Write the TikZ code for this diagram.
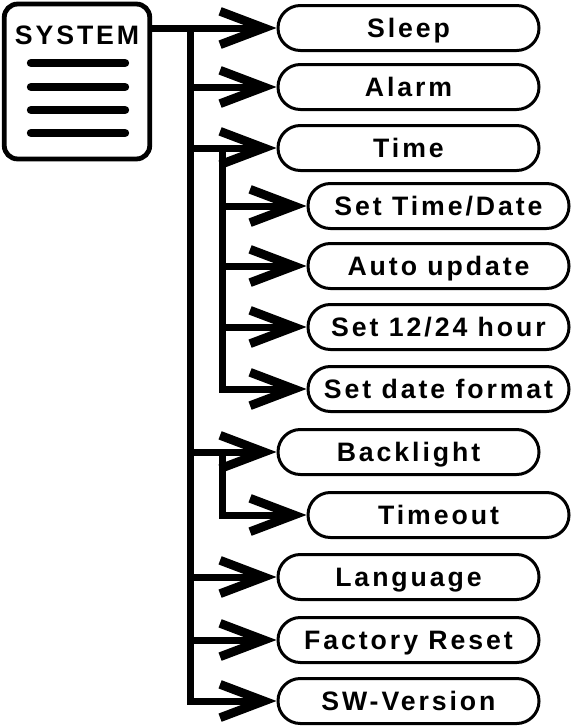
\documentclass[tikz,border=0pt]{standalone}
\usepackage{fontspec}
\newfontfamily\lbl[LetterSpace=11]{Liberation Sans}
\usetikzlibrary{arrows.meta}
\tikzset{
  pill/.style={draw=black, line width=2.25pt, rounded corners=16.8pt, fill=white,
    minimum width=195.75pt, minimum height=33.75pt, inner sep=0pt,
    font=\lbl\bfseries\fontsize{20pt}{22pt}\selectfont, text height=14.3pt, text depth=0pt},
  sysbox/.style={draw=black, line width=3.6pt, rounded corners=10pt,
    minimum width=109.1pt, minimum height=116.2pt, inner sep=0pt},
  systext/.style={font=\lbl\bfseries\fontsize{20pt}{22pt}\selectfont, inner sep=0pt,
    text height=14.3pt, text depth=0pt},
  menuline/.style={line width=6.3pt, line cap=round},
  conn/.style={line width=5.25pt, line cap=rect},
  arr/.style={line width=5.25pt, -{Straight Barb[length=33pt, width=25pt, line width=6.6pt]}}
}
\begin{document}
\begin{tikzpicture}[x=0.75pt, y=-0.75pt]
\useasboundingbox (0,0) rectangle (573,728);
% system box
\node[sysbox] (sys) at (77,81.5) {};
\node[systext] (syst) at (77,35) {SYSTEM};
\draw[menuline] (31,63) -- (125,63);
\draw[menuline] (31,87) -- (125,87);
\draw[menuline] (31,110) -- (125,110);
\draw[menuline] (31,133) -- (125,133);
% main items
\node[pill] (sleep) at (408.5,28) {Sleep};
\node[pill] (alarm) at (408.5,87) {Alarm};
\node[pill] (time) at (408.5,148) {Time};
\node[pill] (settd) at (438.5,206) {Set Time/Date};
\node[pill] (auto) at (438.5,266) {Auto update};
\node[pill] (s1224) at (438.5,327) {Set 12/24 hour};
\node[pill] (sdf) at (438.5,389) {Set date format};
\node[pill] (back) at (408.5,452) {Backlight};
\node[pill] (tout) at (438.5,515) {Timeout};
\node[pill] (lang) at (408.5,577) {Language};
\node[pill] (fact) at (408.5,640) {Factory Reset};
\node[pill] (sw) at (408.5,701) {SW-Version};
% trunks
\coordinate (trunk) at (190,28);
\coordinate (ttrunk) at (222,148);
\coordinate (btrunk) at (222,452);
\draw[conn] (trunk) -- (trunk |- sw.west);
\draw[conn] (ttrunk) -- (ttrunk |- sdf.west);
\draw[conn] (btrunk) -- (btrunk |- tout.west);
% arrows
\draw[arr] (sys.east |- sleep.west) -- (sleep.west);
\draw[arr] (trunk |- alarm.west) -- (alarm.west);
\draw[arr] (trunk |- time.west) -- (time.west);
\draw[arr] (ttrunk |- settd.west) -- (settd.west);
\draw[arr] (ttrunk |- auto.west) -- (auto.west);
\draw[arr] (ttrunk |- s1224.west) -- (s1224.west);
\draw[arr] (ttrunk |- sdf.west) -- (sdf.west);
\draw[arr] (trunk |- back.west) -- (back.west);
\draw[arr] (btrunk |- tout.west) -- (tout.west);
\draw[arr] (trunk |- lang.west) -- (lang.west);
\draw[arr] (trunk |- fact.west) -- (fact.west);
\draw[arr] (trunk |- sw.west) -- (sw.west);
\end{tikzpicture}
\end{document}
